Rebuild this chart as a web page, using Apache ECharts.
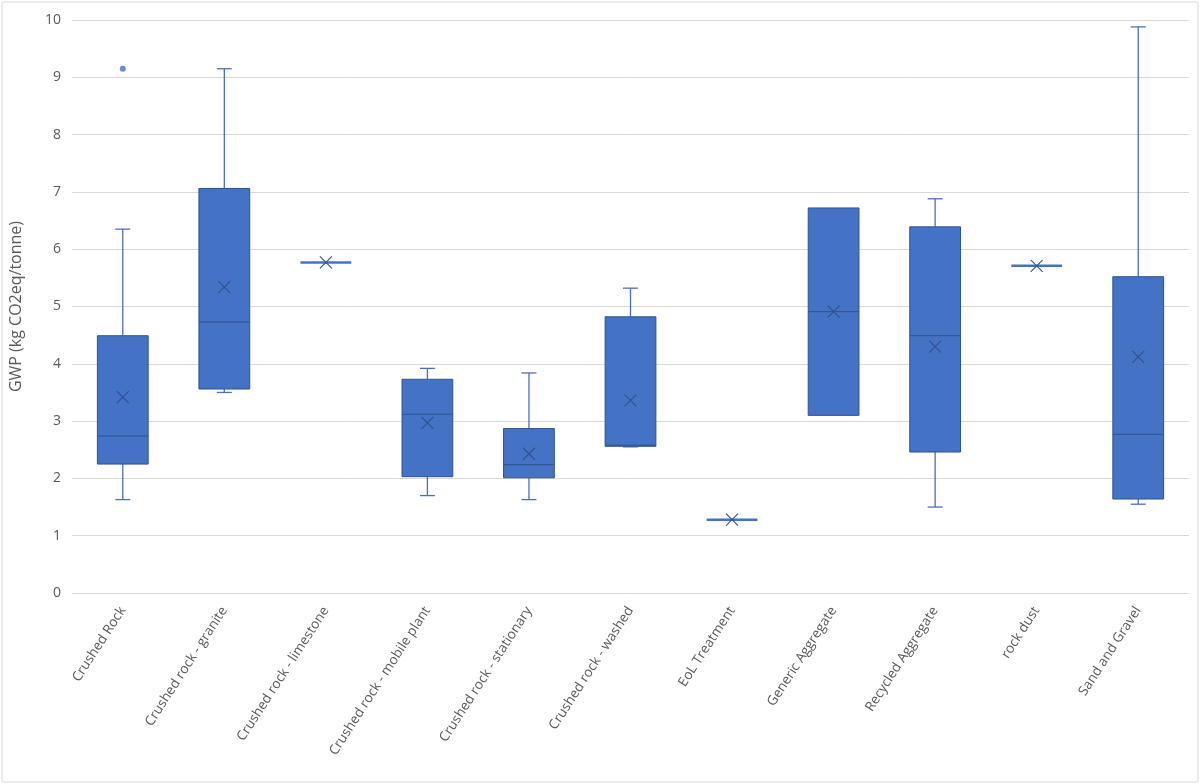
<!DOCTYPE html>
<html>
<head>
<meta charset="utf-8">
<script src="https://cdn.jsdelivr.net/npm/echarts@6/dist/echarts.min.js"></script>
<style>
html,body{margin:0;padding:0;background:#fff;}
#chart{width:1200px;height:784px;}
</style>
</head>
<body>
<div id="chart"></div>
<script>
const categories = ["Crushed Rock","Crushed rock - granite","Crushed rock - limestone","Crushed rock - mobile plant","Crushed rock - stationary","Crushed rock - washed","EoL Treatment","Generic Aggregate","Recycled Aggregate","rock dust","Sand and Gravel"];
const lowWhisker  = [1.63, 3.50, 5.77, 1.70, 1.63, 2.55, 1.28, 3.10, 1.50, 5.71, 1.55];
const q1Values    = [2.25, 3.56, 5.77, 2.03, 2.01, 2.56, 1.28, 3.10, 2.46, 5.71, 1.64];
const medians     = [2.74, 4.73, 5.77, 3.12, 2.24, 2.58, 1.28, 4.91, 4.49, 5.71, 2.77];
const q3Values    = [4.49, 7.06, 5.77, 3.73, 2.87, 4.82, 1.28, 6.72, 6.39, 5.71, 5.52];
const highWhisker = [6.35, 9.15, 5.77, 3.92, 3.84, 5.32, 1.28, 6.72, 6.88, 5.71, 9.88];
const means       = [3.42, 5.34, 5.77, 2.97, 2.43, 3.36, 1.28, 4.91, 4.30, 5.71, 4.12];
const outliers    = [[0, 9.15]];
const yTicks = {min: 0, max: 10, interval: 1};

const boxData = categories.map((c, i) => [i, lowWhisker[i], q1Values[i], medians[i], q3Values[i], highWhisker[i], means[i]]);

const FILL = '#4472C4', DARK = '#2F528F', WHISK = '#4A6FBF';

function renderItem(params, api) {
  const i = api.value(0);
  const pLow = api.coord([i, api.value(1)]);
  const pQ1 = api.coord([i, api.value(2)]);
  const pMed = api.coord([i, api.value(3)]);
  const pQ3 = api.coord([i, api.value(4)]);
  const pHigh = api.coord([i, api.value(5)]);
  const pMean = api.coord([i, api.value(6)]);
  const cx = pQ1[0];
  const bw = api.size([1, 0])[0] * 0.5;
  const cap = 7.5;
  const children = [];
  const lineStyle = {stroke: WHISK, lineWidth: 1.3};
  const flat = Math.abs(pQ3[1] - pQ1[1]) < 0.5;
  if (!flat) {
    if (pHigh[1] < pQ3[1] - 0.5) {
      children.push({type: 'line', shape: {x1: cx, y1: pQ3[1], x2: cx, y2: pHigh[1]}, style: lineStyle});
      children.push({type: 'line', shape: {x1: cx - cap, y1: pHigh[1], x2: cx + cap, y2: pHigh[1]}, style: lineStyle});
    }
    if (pLow[1] > pQ1[1] + 0.5) {
      children.push({type: 'line', shape: {x1: cx, y1: pQ1[1], x2: cx, y2: pLow[1]}, style: lineStyle});
      children.push({type: 'line', shape: {x1: cx - cap, y1: pLow[1], x2: cx + cap, y2: pLow[1]}, style: lineStyle});
    }
    children.push({type: 'rect', shape: {x: cx - bw / 2, y: pQ3[1], width: bw, height: pQ1[1] - pQ3[1]},
      style: {fill: FILL, stroke: DARK, lineWidth: 1}});
    children.push({type: 'line', shape: {x1: cx - bw / 2, y1: pMed[1], x2: cx + bw / 2, y2: pMed[1]},
      style: {stroke: DARK, lineWidth: 1}});
  } else {
    children.push({type: 'line', shape: {x1: cx - bw / 2, y1: pQ1[1], x2: cx + bw / 2, y2: pQ1[1]},
      style: {stroke: FILL, lineWidth: 2.5}});
  }
  const m = 6;
  children.push({type: 'line', shape: {x1: pMean[0] - m, y1: pMean[1] - m, x2: pMean[0] + m, y2: pMean[1] + m},
    style: {stroke: DARK, lineWidth: 1.1}});
  children.push({type: 'line', shape: {x1: pMean[0] - m, y1: pMean[1] + m, x2: pMean[0] + m, y2: pMean[1] - m},
    style: {stroke: DARK, lineWidth: 1.1}});
  return {type: 'group', children: children};
}

const chart = echarts.init(document.getElementById('chart'));
chart.setOption({
  animation: false,
  backgroundColor: '#fff',
  textStyle: {fontFamily: 'Open Sans'},
  graphic: [{type: 'rect', shape: {x: 2, y: 2, width: 1196, height: 780}, style: {fill: 'none', stroke: '#d9d9d9', lineWidth: 1}, silent: true}],
  grid: {left: 72, right: 11, top: 20, bottom: 191, containLabel: false},
  xAxis: {
    type: 'category',
    data: categories,
    boundaryGap: true,
    axisLine: {show: true, lineStyle: {color: '#d9d9d9', width: 1}},
    axisTick: {show: false},
    axisLabel: {rotate: 57, interval: 0, color: '#595959', fontSize: 13.5, fontFamily: 'Open Sans', margin: 15}
  },
  yAxis: {
    type: 'value',
    min: yTicks.min, max: yTicks.max, interval: yTicks.interval,
    name: 'GWP (kg CO2eq/tonne)',
    nameLocation: 'middle',
    nameGap: 48,
    nameTextStyle: {color: '#595959', fontSize: 16, fontFamily: 'Open Sans'},
    axisLine: {show: false},
    axisTick: {show: false},
    axisLabel: {color: '#595959', fontSize: 14, fontFamily: 'Open Sans', margin: 11},
    splitLine: {lineStyle: {color: '#d9d9d9', width: 1}}
  },
  series: [
    {type: 'custom', renderItem: renderItem, data: boxData, encode: {x: 0, y: [1, 2, 3, 4, 5, 6]}, z: 2},
    {type: 'scatter', data: outliers, symbol: 'circle', symbolSize: 6, itemStyle: {color: FILL}, z: 3}
  ]
});
</script>
</body>
</html>
